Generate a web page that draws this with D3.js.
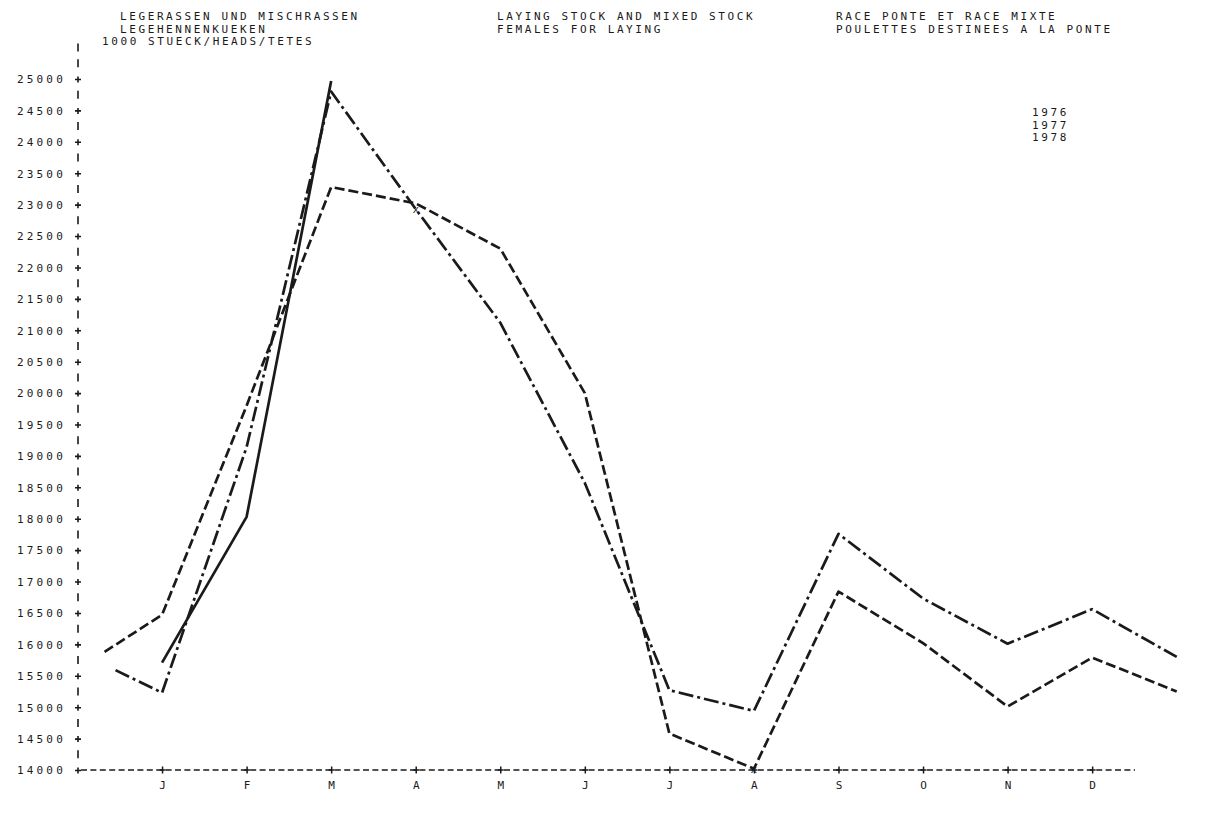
<!DOCTYPE html>
<html>
<head>
<meta charset="utf-8">
<script src="https://cdn.jsdelivr.net/npm/d3@7/dist/d3.min.js"></script>
<style>
  body { margin: 0; background: #fff; }
  svg text { font-family: "DejaVu Sans Mono", monospace; font-size: 11px; fill: #1a1a1a; letter-spacing: 2.6px; }
</style>
</head>
<body>
<div id="chart"></div>
<script>
// month labels, at month index 1..12
let monthLabels = ['J', 'F', 'M', 'A', 'M', 'J', 'J', 'A', 'S', 'O', 'N', 'D']
let yTicks = d3.range(14000, 25001, 500)

// 1000 heads, x = month index (0 = before Jan, 13 = next Jan)
let months1976 = [0.32, 1, 2, 3, 4, 5, 6, 7, 8, 9, 10, 11, 12, 13]
let values1976 = [15880, 16470, 19800, 23280, 23020, 22300, 20000, 14580, 14020, 16840, 16020, 15010, 15790, 15250]

let months1977 = [0.45, 1, 2, 3, 4, 5, 6, 7, 8, 9, 10, 11, 12, 13]
let values1977 = [15590, 15230, 19140, 24800, 22930, 21120, 18570, 15270, 14940, 17760, 16730, 16010, 16560, 15800]

let months1978 = [1, 2, 3]
let values1978 = [15710, 18030, 24970]

let legendYears = ['1976', '1977', '1978']

let titleLeft = ['LEGERASSEN UND MISCHRASSEN', 'LEGEHENNENKUEKEN']
let unitLabel = '1000 STUECK/HEADS/TETES'
let titleMid = ['LAYING STOCK AND MIXED STOCK', 'FEMALES FOR LAYING']
let titleRight = ['RACE PONTE ET RACE MIXTE', 'POULETTES DESTINEES A LA PONTE']

let width = 1227
let height = 840

let svg = d3
  .select('#chart')
  .append('svg')
  .attr('width', width)
  .attr('height', height)

let x = d3.scaleLinear().domain([0, 13]).range([77.5, 1176.7])
let y = d3.scaleLinear().domain([14000, 25000]).range([770, 79])

let ink = '#1a1a1a'

// titles
svg.selectAll('.tl').data(titleLeft).enter().append('text')
  .attr('x', 120).attr('y', (d, i) => 20 + i * 12.5).text(d => d)
svg.append('text').attr('x', 102).attr('y', 45).text(unitLabel)
svg.selectAll('.tm').data(titleMid).enter().append('text')
  .attr('x', 497).attr('y', (d, i) => 20 + i * 12.5).text(d => d)
svg.selectAll('.tr').data(titleRight).enter().append('text')
  .attr('x', 836).attr('y', (d, i) => 20 + i * 12.5).text(d => d)

// legend (years only)
svg.selectAll('.lg').data(legendYears).enter().append('text')
  .attr('x', 1032).attr('y', (d, i) => 116 + i * 12.5).text(d => d)

// y axis
let yAxis = svg.append('g')
  .attr('transform', 'translate(78,0)')
  .call(d3.axisLeft(y).tickValues(yTicks).tickSize(0).tickPadding(12).tickFormat(d3.format('d')))
yAxis.select('.domain').remove()
yAxis.selectAll('.tick text').attr('dy', '0.35em').style('letter-spacing', '3.2px')
yAxis.selectAll('.tick').append('path')
  .attr('d', 'M-3,0H3M0,-3V3')
  .attr('stroke', ink).attr('stroke-width', 1.6)

// vertical bars between the ticks
let midValues = yTicks.map(v => v + 250).concat([25500])
svg.selectAll('.ybar').data(midValues).enter().append('line')
  .attr('x1', 78).attr('x2', 78)
  .attr('y1', d => y(d) - 4).attr('y2', d => y(d) + 4)
  .attr('stroke', ink).attr('stroke-width', 1.6)

// x axis
let xAxis = svg.append('g')
  .attr('transform', 'translate(0,770)')
  .call(d3.axisBottom(x).tickValues(d3.range(1, 13)).tickSize(0).tickPadding(11)
    .tickFormat(i => monthLabels[i - 1]))
xAxis.select('.domain').remove()
xAxis.selectAll('.tick text').attr('dx', '1.3px')
svg.append('line')
  .attr('x1', 81).attr('x2', 1135).attr('y1', 770).attr('y2', 770)
  .attr('stroke', ink).attr('stroke-width', 1.3)
  .attr('stroke-dasharray', '6,3.4')
xAxis.selectAll('.tick').append('path')
  .attr('d', 'M-3,0H3M0,-3.5V3.5')
  .attr('stroke', ink).attr('stroke-width', 1.5)

// lines
let line = d3.line().x(d => x(d[0])).y(d => y(d[1]))

function drawSeries(ms, vs, dash) {
  svg.append('path')
    .datum(d3.zip(ms, vs))
    .attr('d', line)
    .attr('fill', 'none')
    .attr('stroke', ink)
    .attr('stroke-width', 2.7)
    .attr('stroke-linejoin', 'round')
    .attr('stroke-dasharray', dash)
}

drawSeries(months1976, values1976, '10,4')
drawSeries(months1977, values1977, '15,4,3,4')
drawSeries(months1978, values1978, null)

// small x marks printed where lines meet (1976 in Aug, 1977 in Apr)
let crossMarks = [[months1976[8], values1976[8]], [months1977[4], values1977[4]]]
svg.selectAll('.xm').data(crossMarks).enter().append('text')
  .attr('x', d => x(d[0])).attr('y', d => y(d[1]) + 4)
  .attr('text-anchor', 'middle')
  .style('letter-spacing', '0px')
  .text('x')
</script>
</body>
</html>
